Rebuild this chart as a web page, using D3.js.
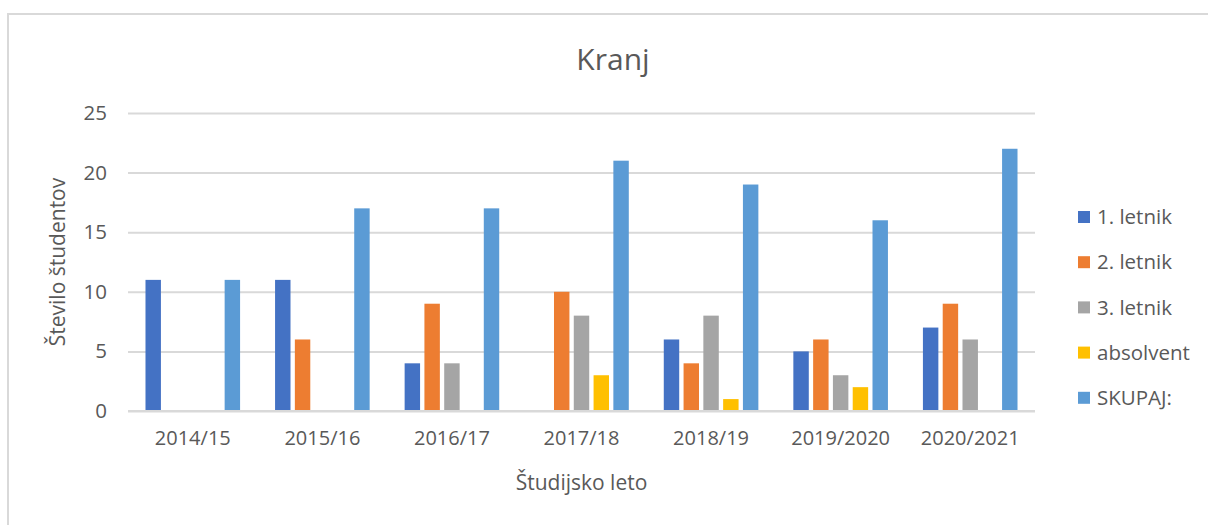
<!DOCTYPE html>
<html><head><meta charset="utf-8">
<script src="https://cdn.jsdelivr.net/npm/d3@7"></script>
<style>
html,body{margin:0;padding:0;background:#fff;}
svg{display:block;font-family:"Open Sans","Noto Sans",sans-serif;}
</style></head>
<body><svg id="c" width="1208" height="525"></svg>
<script>
const categories = ["2014/15","2015/16","2016/17","2017/18","2018/19","2019/2020","2020/2021"];
const seriesNames = ["1. letnik","2. letnik","3. letnik","absolvent","SKUPAJ:"];
const letnik1 = [11,11,4,0,6,5,7];
const letnik2 = [0,6,9,10,4,6,9];
const letnik3 = [0,0,4,8,8,3,6];
const absolvent = [0,0,0,3,1,2,0];
const skupaj = [11,17,17,21,19,16,22];
const yTicks = [0,5,10,15,20,25];
const colors = ["#4472c4","#ed7d31","#a5a5a5","#ffc000","#5b9bd5"];

const seriesValues = [letnik1,letnik2,letnik3,absolvent,skupaj];
const svg = d3.select("#c");
const txt = "#595959";
const FONT = '"Open Sans","Noto Sans",sans-serif';

// chart border
svg.append("rect").attr("x",8).attr("y",14).attr("width",1220).attr("height",540)
  .attr("fill","none").attr("stroke","#d9d9d9").attr("stroke-width",2);

const L=128,R=1035,T=113,B=411;
const x0 = d3.scaleBand().domain(categories).range([L,R]).paddingInner(0.27).paddingOuter(0.135);
const x1 = d3.scaleBand().domain(seriesNames).range([0,x0.bandwidth()]).paddingInner(0.22).paddingOuter(0);
const y = d3.scaleLinear().domain([0,25]).range([B,T]);

// gridlines
const yAxis = d3.axisLeft(y).tickValues(yTicks).tickSize(-(R-L)).tickPadding(14);
const gy = svg.append("g").attr("transform",`translate(${L},0)`).call(yAxis)
  .attr("font-family",FONT);
gy.select(".domain").remove();
gy.selectAll(".tick line").attr("stroke","#d9d9d9").attr("stroke-width",2);
gy.selectAll(".tick text").attr("fill",txt).attr("font-size",20.5).attr("x",-21);

// bars
const groups = svg.append("g").selectAll("g").data(categories).join("g")
  .attr("transform",d=>`translate(${x0(d)},0)`);
groups.selectAll("rect").data((d,i)=>seriesNames.map((s,k)=>({s,k,v:seriesValues[k][i]})))
  .join("rect")
  .attr("x",d=>x1(d.s)).attr("width",x1.bandwidth())
  .attr("y",d=>y(d.v)).attr("height",d=>B-y(d.v))
  .attr("fill",d=>colors[d.k]);

// baseline
svg.append("line").attr("x1",L).attr("x2",R).attr("y1",B).attr("y2",B).attr("stroke","#d9d9d9").attr("stroke-width",2);

// x axis labels
const xAxis = d3.axisBottom(x0).tickSize(0).tickPadding(20);
const gx = svg.append("g").attr("transform",`translate(0,${B})`).call(xAxis)
  .attr("font-family",FONT);
gx.select(".domain").remove();
gx.selectAll(".tick text").attr("fill",txt).attr("font-size",20);

// title
svg.append("text").attr("x",613).attr("y",70).attr("text-anchor","middle")
  .attr("fill",txt).attr("font-size",30).text("Kranj");

// axis titles
svg.append("text").attr("x",(L+R)/2).attr("y",490).attr("text-anchor","middle")
  .attr("fill",txt).attr("font-size",21).text("Študijsko leto");
svg.append("text").attr("transform",`translate(65,${(T+B)/2}) rotate(-90)`).attr("text-anchor","middle")
  .attr("fill",txt).attr("font-size",21).text("Število študentov");

// legend
const leg = svg.append("g").selectAll("g").data(seriesNames).join("g")
  .attr("transform",(d,i)=>`translate(1078,${217+i*45.2})`);
leg.append("rect").attr("x",0).attr("y",-6).attr("width",12).attr("height",12).attr("fill",(d,i)=>colors[i]);
leg.append("text").attr("x",19).attr("y",0).attr("dy","0.35em").attr("fill",txt).attr("font-size",20.5).text(d=>d);
</script></body></html>
